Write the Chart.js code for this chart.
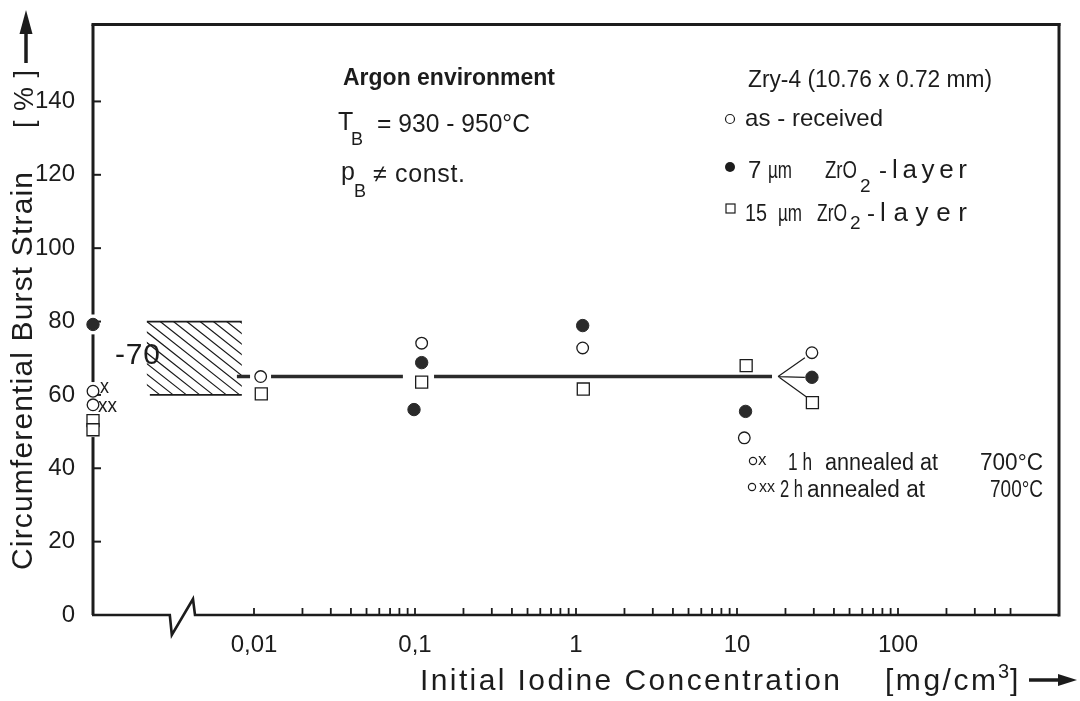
<!DOCTYPE html>
<html><head><meta charset="utf-8">
<script src="https://cdn.jsdelivr.net/npm/chart.js@4.4.1/dist/chart.umd.min.js"></script>
<style>html,body{margin:0;padding:0;background:#fff;}#wrap{width:1080px;height:701px;}</style>
</head><body><div id="wrap"><canvas id="c" width="1080" height="701"></canvas></div>
<script>
// ---------- data ----------
const xTickValues = [0.01, 0.1, 1, 10, 100];
const xTickLabels = ['0,01', '0,1', '1', '10', '100'];
const yTickValues = [0, 20, 40, 60, 80, 100, 120, 140];
const minorTickValues = [0.01,0.02,0.03,0.04,0.05,0.06,0.07,0.08,0.09,
  0.1,0.2,0.3,0.4,0.5,0.6,0.7,0.8,0.9,
  1,2,3,4,5,6,7,8,9,
  10,20,30,40,50,60,70,80,90,
  100,200,300,400,500];

// as-received (open circles)
const asReceivedX = [0.0110, 0.110, 1.10, 11.1, 29.2];
const asReceivedY = [65, 74.1, 72.8, 48.3, 71.5];
// annealed as-received specimens at the reference position (open circles, x / xx)
const annealedX = [0.001, 0.001];
const annealedY = [61, 57.3];
const annealedTags = ['x', 'xx'];
// 7 µm ZrO2 layer (filled circles)
const zro7X = [0.001, 0.110, 0.0986, 1.10, 11.3, 29.2];
const zro7Y = [79.2, 68.8, 56.0, 78.9, 55.5, 64.8];
// 15 µm ZrO2 layer (open squares)
const zro15X = [0.001, 0.001, 0.0111, 0.110, 1.11, 11.4, 29.4];
const zro15Y = [53, 50.5, 60.3, 63.5, 61.6, 68.0, 57.9];
// mean line (~65 %), with gaps around point clusters
const meanLineX = [0.00783, 0.00945, 0.011, 0.01276, 0.0841, 0.1, 0.1313, 16.5];
const meanLineY = [65, 65, null, 65, 65, null, 65, 65];
// fan lines towards the 30 mg/cm3 points
const fanX = [18.0, 26.4, 20, 18.0, 26.4, 20, 18.0, 26.9];
const fanY = [65, 70.1, null, 65, 64.8, null, 65, 59.5];
// hatched reference band (no iodine), 60-80 %
const hatchX = [0.00216, 0.0084];
const hatchY = [60, 80];
// left axis drawn with gaps where the reference points sit
const leftAxisSegments = [[0, 48.5], [63.5, 76.5], [81.9, 161]];
// x-axis break position
const axisBreak = [0.0030, 0.0043];

// ---------- styling ----------
const INK = '#1c1c1c';
const SANS = '"Liberation Sans", Arial, sans-serif';

const pts = (xs, ys) => xs.map((v, i) => ({x: v, y: ys[i]}));

function setFont(ctx, size, weight) {
  ctx.font = `${weight || 'normal'} ${size}px ${SANS}`;
  ctx.textAlign = 'left'; ctx.textBaseline = 'alphabetic';
  ctx.letterSpacing = '0px';
}
// draw a string so that it spans x0..x1: widen with letter spacing, narrow by condensing
function fit(ctx, s, x0, x1, base, size, weight) {
  setFont(ctx, size, weight);
  const w = ctx.measureText(s).width;
  const n = [...s].length;
  const target = x1 - x0;
  if (w > target) {
    ctx.save(); ctx.translate(x0, base); ctx.scale(target / w, 1);
    ctx.fillText(s, 0, 0); ctx.restore();
  } else {
    ctx.letterSpacing = (n > 1 ? (target - w) / (n - 1) : 0) + 'px';
    ctx.fillText(s, x0, base);
    ctx.letterSpacing = '0px';
  }
}
function txt(ctx, s, x, base, size, align) {
  setFont(ctx, size);
  ctx.textAlign = align || 'left';
  ctx.fillText(s, x, base);
}
function seg(ctx, x0, y0, x1, y1) { ctx.beginPath(); ctx.moveTo(x0, y0); ctx.lineTo(x1, y1); ctx.stroke(); }

const decor = {
  id: 'decor',
  beforeDatasetsDraw(chart) {
    const {ctx, chartArea: ca, scales: {x, y}} = chart;
    ctx.save();
    ctx.strokeStyle = INK; ctx.fillStyle = INK;
    // hatched band
    const hx0 = x.getPixelForValue(hatchX[0]), hx1 = x.getPixelForValue(hatchX[1]);
    const hy0 = y.getPixelForValue(hatchY[1]), hy1 = y.getPixelForValue(hatchY[0]);
    ctx.lineWidth = 1.8;
    seg(ctx, hx0, hy0, hx1, hy0);
    seg(ctx, hx0 + 3, hy1, hx1, hy1);
    ctx.save();
    ctx.beginPath(); ctx.rect(hx0, hy0 - 1, hx1 - hx0, hy1 - hy0 + 2); ctx.clip();
    ctx.lineWidth = 1.2;
    const run = (hy1 - hy0) / 0.79, step = 13.3;
    ctx.beginPath();
    for (let k = -Math.floor(run / step) * step; k < hx1 - hx0; k += step) {
      ctx.moveTo(hx0 + k, hy0); ctx.lineTo(hx0 + k + run, hy1);
    }
    ctx.stroke();
    ctx.restore();

    // frame
    ctx.lineWidth = 3; ctx.lineCap = 'square';
    seg(ctx, ca.left, ca.top, ca.right, ca.top);
    seg(ctx, ca.right, ca.top, ca.right, ca.bottom);
    ctx.lineCap = 'butt';
    for (const [a, b] of leftAxisSegments) seg(ctx, ca.left, y.getPixelForValue(a), ca.left, y.getPixelForValue(b));
    // bottom axis with break
    const b0 = x.getPixelForValue(axisBreak[0]), b1 = x.getPixelForValue(axisBreak[1]);
    ctx.lineWidth = 2.6; ctx.lineJoin = 'miter';
    ctx.beginPath();
    ctx.moveTo(ca.left - 1, ca.bottom); ctx.lineTo(b0, ca.bottom);
    ctx.lineTo(b0 + 2, ca.bottom + 20); ctx.lineTo(b1 - 2, ca.bottom - 16);
    ctx.lineTo(b1, ca.bottom); ctx.lineTo(ca.right, ca.bottom);
    ctx.stroke();
    // y ticks (inside)
    ctx.lineWidth = 2;
    for (const v of yTickValues) { if (v === 0) continue; const p = y.getPixelForValue(v); seg(ctx, ca.left, p, ca.left + 8, p); }
    // x ticks (inside)
    ctx.lineWidth = 1.8;
    for (const v of minorTickValues) { const p = x.getPixelForValue(v); seg(ctx, p, ca.bottom, p, ca.bottom - 7); }
    ctx.restore();
  },
  afterDraw(chart) {
    const {ctx, scales: {x, y}} = chart;
    ctx.save();
    ctx.fillStyle = INK; ctx.strokeStyle = INK;

    // y-axis title (rotated) with arrow
    ctx.save();
    ctx.translate(32, 570); ctx.rotate(-Math.PI / 2);
    fit(ctx, 'Circumferential Burst Strain', 0, 398, 0, 30);
    ctx.restore();
    ctx.save();
    ctx.translate(33, 128); ctx.rotate(-Math.PI / 2);
    fit(ctx, '[ % ]', 0, 58, 0, 27);
    ctx.restore();
    ctx.lineWidth = 3.5;
    seg(ctx, 26, 63, 26, 30);
    ctx.beginPath(); ctx.moveTo(19.5, 34); ctx.lineTo(32.5, 34); ctx.lineTo(26, 10); ctx.closePath(); ctx.fill();

    // x-axis title with arrow
    fit(ctx, 'Initial Iodine Concentration', 420, 840, 690, 30);
    fit(ctx, '[mg/cm', 885, 996, 690, 30);
    txt(ctx, '3', 998, 678, 20);
    txt(ctx, ']', 1010, 690, 30);
    ctx.lineWidth = 3.5;
    seg(ctx, 1029, 680, 1062, 680);
    ctx.beginPath(); ctx.moveTo(1058, 674); ctx.lineTo(1058, 686); ctx.lineTo(1077, 680); ctx.closePath(); ctx.fill();

    // "-70" label of the hatched band
    fit(ctx, '-70', 115, 160, 364, 30);

    // x / xx tags next to the annealed points
    annealedX.forEach((v, i) => {
      const px = x.getPixelForValue(v), py = y.getPixelForValue(annealedY[i]);
      if (i === 0) fit(ctx, annealedTags[i], px + 7, px + 16, py + 2, 20);
      else fit(ctx, annealedTags[i], px + 5, px + 24, py + 7, 20);
    });

    // left annotation block
    fit(ctx, 'Argon environment', 343, 555, 85, 23, 'bold');
    txt(ctx, 'T', 338, 130, 25);
    txt(ctx, 'B', 351, 145, 18);
    fit(ctx, '= 930 - 950°C', 377, 530, 132, 25);
    txt(ctx, 'p', 341, 180, 25);
    txt(ctx, 'B', 354, 197, 18);
    fit(ctx, '≠ const.', 373, 465, 182, 25);

    // legend block (upper right)
    fit(ctx, 'Zry-4 (10.76 x 0.72 mm)', 748, 992, 87, 23);
    ctx.lineWidth = 1.2;
    ctx.beginPath(); ctx.arc(730, 119, 4.5, 0, Math.PI * 2); ctx.stroke();
    fit(ctx, 'as - received', 745, 883, 126, 24);
    ctx.beginPath(); ctx.arc(730, 167, 5, 0, Math.PI * 2); ctx.fill();
    txt(ctx, '7', 748, 178, 24);
    fit(ctx, 'µm', 768, 792, 178, 24);
    fit(ctx, 'ZrO', 825, 857, 178, 24);
    txt(ctx, '2', 860, 192, 19);
    txt(ctx, '-', 879, 178, 24);
    fit(ctx, 'layer', 892, 967, 178, 26);
    ctx.strokeRect(726, 204, 9, 9);
    fit(ctx, '15', 745, 767, 221, 24);
    fit(ctx, 'µm', 778, 802, 221, 24);
    fit(ctx, 'ZrO', 817, 847, 221, 24);
    txt(ctx, '2', 850, 229, 19);
    txt(ctx, '-', 867, 221, 24);
    fit(ctx, 'layer', 880, 967, 221, 26);

    // annealing note (lower right)
    ctx.beginPath(); ctx.arc(753, 461, 3.6, 0, Math.PI * 2); ctx.stroke();
    txt(ctx, 'x', 758, 465, 17);
    fit(ctx, '1 h', 788, 812, 470, 23);
    fit(ctx, 'annealed at', 825, 938, 470, 23);
    fit(ctx, '700°C', 980, 1043, 470, 23);
    ctx.beginPath(); ctx.arc(752, 487, 3.6, 0, Math.PI * 2); ctx.stroke();
    fit(ctx, 'xx', 759, 775, 492, 17);
    fit(ctx, '2 h', 780, 803, 497, 23);
    fit(ctx, 'annealed at', 807, 925, 497, 23);
    fit(ctx, '700°C', 990, 1043, 497, 23);
    ctx.restore();
  }
};

const openCircle = {pointStyle: 'circle', pointRadius: 5.8, backgroundColor: '#fff', borderColor: INK, borderWidth: 1.3};
const filledCircle = {pointStyle: 'circle', pointRadius: 6.2, backgroundColor: '#2a2a2a', borderColor: '#2a2a2a', borderWidth: 1};
const openSquare = {pointStyle: 'rect', pointRadius: 8.5, backgroundColor: '#fff', borderColor: INK, borderWidth: 1.3};

new Chart(document.getElementById('c'), {
  type: 'scatter',
  data: {
    datasets: [
      {label: 'as-received', data: pts(asReceivedX, asReceivedY), ...openCircle, clip: false, order: 0},
      {label: 'annealed', data: pts(annealedX, annealedY), ...openCircle, clip: false, order: 0},
      {label: '7 µm ZrO2-layer', data: pts(zro7X, zro7Y), ...filledCircle, clip: false, order: 0},
      {label: '15 µm ZrO2-layer', data: pts(zro15X, zro15Y), ...openSquare, clip: false, order: 0},
      {label: 'mean', data: pts(meanLineX, meanLineY), showLine: true, spanGaps: false, pointRadius: 0,
       borderColor: '#2b2b2b', borderWidth: 3.6, clip: false, order: 1},
      {label: 'fan', data: pts(fanX, fanY), showLine: true, spanGaps: false, pointRadius: 0,
       borderColor: INK, borderWidth: 1.2, clip: false, order: 1}
    ]
  },
  options: {
    responsive: false, animation: false, devicePixelRatio: 1,
    layout: {padding: {top: 10, right: 21, left: 0, bottom: 0}},
    plugins: {legend: {display: false}, tooltip: {enabled: false}},
    scales: {
      x: {
        type: 'logarithmic', min: 0.001, max: 1000,
        grid: {display: false}, border: {display: false},
        afterBuildTicks(s) { s.ticks = xTickValues.map(v => ({value: v})); },
        afterFit(s) { s.height = 86; },
        ticks: {autoSkip: false, maxRotation: 0, padding: 8, color: INK,
          font: {family: SANS, size: 24},
          callback: (v, i) => xTickLabels[i]}
      },
      y: {
        min: 0, max: 161,
        grid: {display: false}, border: {display: false},
        afterBuildTicks(s) { s.ticks = yTickValues.map(v => ({value: v})); },
        afterFit(s) { s.width = 93; },
        ticks: {padding: 10, color: INK, font: {family: SANS, size: 24}}
      }
    }
  },
  plugins: [decor]
});
</script></body></html>
